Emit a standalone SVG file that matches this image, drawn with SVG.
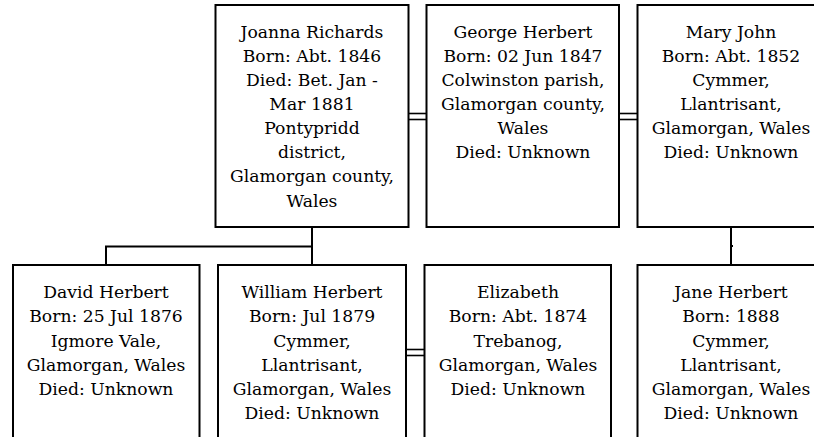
<svg xmlns="http://www.w3.org/2000/svg" width="814" height="437" viewBox="0 0 814 437">
<style>
.box{fill:#fff;stroke:#000;stroke-width:2}
.t{font-family:'DejaVu Serif',serif;font-size:17.2px;fill:#000;text-anchor:middle}
.c{stroke:#000;stroke-width:2;fill:none}
.m{stroke:#000;stroke-width:1.6;fill:none}
</style>
<rect width="814" height="437" fill="#fff"/>
<g id="connectors">
<line class="m" x1="408" y1="113.5" x2="427" y2="113.5"/>
<line class="m" x1="408" y1="119.5" x2="427" y2="119.5"/>
<line class="m" x1="619" y1="113.5" x2="638" y2="113.5"/>
<line class="m" x1="619" y1="119.5" x2="638" y2="119.5"/>
<line class="m" x1="406" y1="349.5" x2="425" y2="349.5"/>
<line class="m" x1="406" y1="355.5" x2="425" y2="355.5"/>
<polyline class="c" points="312,227 312,265"/>
<polyline class="c" points="312,246.5 106,246.5 106,265"/>
<polyline class="c" points="731,227 731,265"/>
<line class="c" x1="731" y1="246" x2="733" y2="246"/>
</g>
<g id="joanna">
<rect class="box" x="215.5" y="5" width="193" height="222"/>
<text class="t" x="312" y="38">Joanna Richards</text>
<text class="t" x="312" y="62">Born: Abt. 1846</text>
<text class="t" x="312" y="86">Died: Bet. Jan -</text>
<text class="t" x="312" y="110">Mar 1881</text>
<text class="t" x="312" y="134">Pontypridd</text>
<text class="t" x="312" y="158">district,</text>
<text class="t" x="312" y="182">Glamorgan county,</text>
<text class="t" x="312" y="207">Wales</text>
</g>
<g id="george">
<rect class="box" x="426.5" y="5" width="192.5" height="222"/>
<text class="t" x="523" y="38">George Herbert</text>
<text class="t" x="523" y="62">Born: 02 Jun 1847</text>
<text class="t" x="523" y="86">Colwinston parish,</text>
<text class="t" x="523" y="110">Glamorgan county,</text>
<text class="t" x="523" y="134">Wales</text>
<text class="t" x="523" y="158">Died: Unknown</text>
</g>
<g id="mary">
<rect class="box" x="637.5" y="5" width="190" height="222"/>
<text class="t" x="731" y="38">Mary John</text>
<text class="t" x="731" y="62">Born: Abt. 1852</text>
<text class="t" x="731" y="86">Cymmer,</text>
<text class="t" x="731" y="110">Llantrisant,</text>
<text class="t" x="731" y="134">Glamorgan, Wales</text>
<text class="t" x="731" y="158">Died: Unknown</text>
</g>
<g id="david">
<rect class="box" x="13" y="265" width="186.5" height="190"/>
<text class="t" x="106" y="298">David Herbert</text>
<text class="t" x="106" y="322">Born: 25 Jul 1876</text>
<text class="t" x="106" y="347">Igmore Vale,</text>
<text class="t" x="106" y="371">Glamorgan, Wales</text>
<text class="t" x="106" y="395">Died: Unknown</text>
</g>
<g id="william">
<rect class="box" x="218" y="265" width="188" height="190"/>
<text class="t" x="312" y="298">William Herbert</text>
<text class="t" x="312" y="322">Born: Jul 1879</text>
<text class="t" x="312" y="347">Cymmer,</text>
<text class="t" x="312" y="371">Llantrisant,</text>
<text class="t" x="312" y="395">Glamorgan, Wales</text>
<text class="t" x="312" y="419">Died: Unknown</text>
</g>
<g id="elizabeth">
<rect class="box" x="424.5" y="265" width="186.5" height="190"/>
<text class="t" x="518" y="298">Elizabeth</text>
<text class="t" x="518" y="322">Born: Abt. 1874</text>
<text class="t" x="518" y="347">Trebanog,</text>
<text class="t" x="518" y="371">Glamorgan, Wales</text>
<text class="t" x="518" y="395">Died: Unknown</text>
</g>
<g id="jane">
<rect class="box" x="637.5" y="265" width="190" height="190"/>
<text class="t" x="731" y="298">Jane Herbert</text>
<text class="t" x="731" y="322">Born: 1888</text>
<text class="t" x="731" y="347">Cymmer,</text>
<text class="t" x="731" y="371">Llantrisant,</text>
<text class="t" x="731" y="395">Glamorgan, Wales</text>
<text class="t" x="731" y="419">Died: Unknown</text>
</g>
</svg>
